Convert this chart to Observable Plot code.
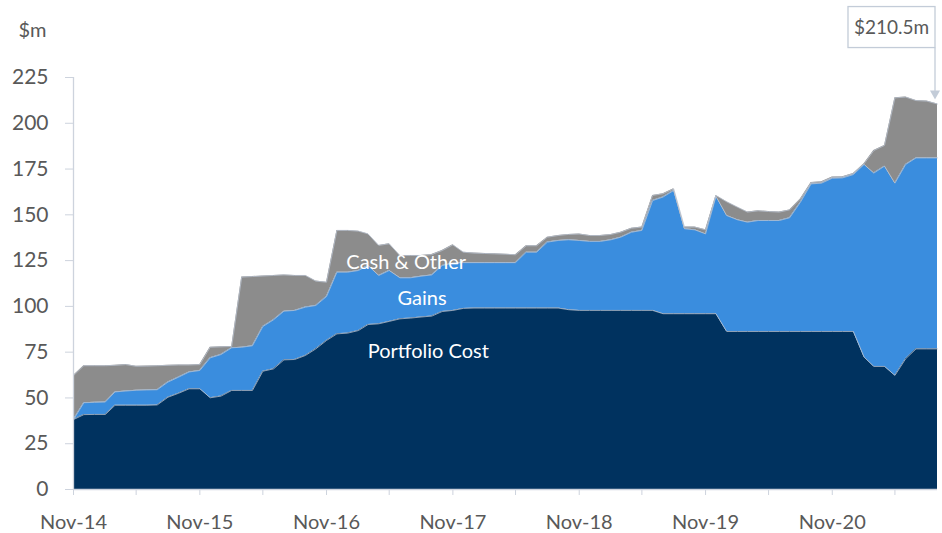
<!DOCTYPE html>
<html><head><meta charset="utf-8">
<script src="https://cdn.jsdelivr.net/npm/d3@7"></script>
<script src="https://cdn.jsdelivr.net/npm/@observablehq/plot@0.6"></script>
<style>
body{margin:0;background:#fff;}
#chart svg{display:block;}
</style></head><body><div id="chart"></div>
<script>
// ---- data (monthly, Nov-14 .. Sep-21), $m ----
const firstMonth = "2014-11-01";
const seriesNames = ["Portfolio Cost", "Gains", "Cash & Other"];
const seriesColors = ["#00325f", "#3a8dde", "#8c8c8c"];

const portfolioCost = [
  38.2, 40.9, 41.0, 41.0, 46.0, 46.0, 46.0, 46.0, 46.2, 50.4, 52.6, 55.0,
  55.0, 50.1, 51.0, 54.1, 54.1, 54.1, 64.6, 65.9, 70.8, 71.0, 73.2, 76.8,
  81.4, 85.0, 85.4, 86.8, 90.1, 90.5, 91.8, 93.2, 93.6, 94.2, 94.7, 97.2,
  97.8, 98.9, 99.1, 99.1, 99.1, 99.1, 99.1, 99.1, 99.1, 99.1, 99.1, 98.2,
  97.8, 97.8, 97.8, 97.8, 97.8, 97.8, 97.8, 97.8, 96.0, 96.0, 96.0, 96.0,
  96.0, 96.0, 86.3, 86.3, 86.3, 86.3, 86.3, 86.3, 86.3, 86.3, 86.3, 86.3,
  86.3, 86.3, 86.3, 72.3, 67.2, 67.2, 62.3, 71.4, 76.8, 76.8, 76.8
];
const gains = [
  0.0, 6.5, 6.6, 6.8, 7.3, 7.8, 8.2, 8.4, 8.3, 8.3, 8.8, 9.2,
  10.0, 21.8, 22.7, 23.3, 23.6, 24.4, 24.4, 26.8, 26.6, 26.8, 26.4, 23.7,
  24.0, 33.7, 33.3, 32.8, 32.2, 26.4, 27.8, 22.4, 22.0, 22.3, 22.5, 25.1,
  25.8, 25.0, 24.8, 24.8, 24.8, 24.8, 24.8, 30.5, 30.5, 36.0, 36.9, 38.2,
  38.2, 37.7, 37.7, 38.6, 40.0, 42.7, 43.7, 60.0, 63.7, 67.3, 46.4, 45.8,
  43.6, 64.1, 63.3, 61.0, 59.7, 60.6, 60.6, 60.6, 62.1, 70.6, 80.6, 81.0,
  83.7, 83.9, 85.7, 105.2, 105.6, 109.4, 105.0, 106.1, 104.3, 104.3, 104.3
];
const cashOther = [
  24.0, 20.2, 20.0, 19.8, 14.5, 14.4, 13.1, 13.0, 13.1, 9.1, 6.6, 3.8,
  3.2, 5.8, 4.2, 0.7, 38.3, 37.8, 27.6, 24.2, 19.8, 19.1, 17.3, 13.3,
  7.8, 22.8, 22.8, 21.5, 17.3, 16.4, 14.6, 12.2, 12.2, 11.3, 11.1, 8.2,
  10.0, 5.7, 5.2, 5.0, 4.8, 4.6, 4.3, 3.5, 3.5, 2.7, 2.7, 2.9,
  3.5, 3.2, 3.2, 2.9, 2.7, 2.2, 1.8, 2.8, 1.8, 0.9, 0.9, 1.5,
  2.2, 0.5, 7.5, 6.9, 5.5, 5.3, 4.9, 4.6, 4.3, 1.8, 0.7, 0.7,
  0.6, 0.6, 0.6, 0.4, 12.3, 11.3, 46.6, 36.8, 31.3, 31.0, 29.4
];

const yTicks = [0, 25, 50, 75, 100, 125, 150, 175, 200, 225];
const xLabelTicks = ["2014-11-01", "2015-11-01", "2016-11-01", "2017-11-01", "2018-11-01", "2019-11-01", "2020-11-01"];
const xMinorTicks = ["2015-05-01", "2016-05-01", "2017-05-01", "2018-05-01", "2019-05-01", "2020-05-01", "2021-05-01"];

const layerLabelText = ["Cash & Other", "Gains", "Portfolio Cost"];
const layerLabelDate = ["2017-06-19", "2017-08-04", "2017-08-22"];
const layerLabelValue = [124, 104.3, 75.4];

// ---- build tables ----
const start = new Date(firstMonth);
const dates = portfolioCost.map((_, i) => d3.utcMonth.offset(start, i));
const seriesValues = [portfolioCost, gains, cashOther];
const rows = seriesNames.flatMap((s, k) => seriesValues[k].map((v, i) => ({date: dates[i], series: s, value: v})));
const layerLabels = layerLabelText.map((t, i) => ({label: t, date: new Date(layerLabelDate[i]), value: layerLabelValue[i]}));

const textColor = "#595959";
const axisColor = "#cdd3dd";

const chart = Plot.plot({
  width: 942, height: 533,
  marginLeft: 73, marginRight: 5, marginTop: 77, marginBottom: 44,
  style: {fontFamily: "Lato, sans-serif", fontSize: "19px", background: "white", color: textColor},
  x: {type: "utc", domain: [dates[0], dates[dates.length - 1]]},
  y: {domain: [0, 225]},
  color: {domain: seriesNames, range: seriesColors},
  marks: [
    Plot.areaY(rows, {x: "date", y: "value", z: "series", fill: "series", order: seriesNames}),
    Plot.lineY(rows, Plot.stackY2({x: "date", y: "value", z: "series", order: seriesNames, stroke: "#b9c2cf", strokeWidth: 0.8})),
    Plot.ruleY([0], {stroke: axisColor, strokeWidth: 1.3}),
    Plot.ruleX([dates[0]], {y1: 0, y2: 225, stroke: axisColor, strokeWidth: 1.3}),
    Plot.axisY({ticks: yTicks, tickSize: 8, tickPadding: 17, stroke: axisColor, fill: textColor, fontSize: 21, label: null}),
    Plot.axisX({ticks: xMinorTicks.map(d => new Date(d)), tickSize: 6, stroke: axisColor, fill: "none", label: null}),
    Plot.axisX({ticks: xLabelTicks.map(d => new Date(d)), tickSize: 6, tickPadding: 19, tickFormat: d3.utcFormat("%b-%y"), stroke: axisColor, fill: textColor, fontSize: 20, label: null}),
    Plot.text(layerLabels, {x: "date", y: "value", text: "label", fill: "white", fontSize: 20}),
    Plot.text(["$m"], {frameAnchor: "top-left", dx: -55, dy: -47, textAnchor: "start", lineAnchor: "middle", fill: textColor, fontSize: 20})
  ]
});
document.getElementById("chart").appendChild(chart);

// ---- annotation on the last value ----
const last = dates.length - 1;
const lastTotal = portfolioCost[last] + gains[last] + cashOther[last];
const px = chart.scale("x").apply(dates[last]);
const py = chart.scale("y").apply(lastTotal);
const svg = d3.select(chart);
const g = svg.append("g");
const annColor = "#c3ccd8";
g.append("line").attr("x1", px - 2).attr("x2", px - 2).attr("y1", py - 56).attr("y2", py - 12)
  .attr("stroke", annColor).attr("stroke-width", 1.3);
g.append("path").attr("d", `M${px - 7},${py - 13}L${px + 3},${py - 13}L${px - 2},${py - 4}Z`).attr("fill", annColor);
g.append("rect").attr("x", px - 89).attr("y", py - 97).attr("width", 87).attr("height", 41)
  .attr("fill", "white").attr("stroke", annColor).attr("stroke-width", 1.3);
g.append("text").attr("x", px - 45.5).attr("y", py - 76.5).attr("dy", "0.35em").attr("text-anchor", "middle")
  .attr("font-family", "Lato, sans-serif").attr("font-size", 19).attr("fill", textColor)
  .text("$" + lastTotal.toFixed(1) + "m");
</script></body></html>
